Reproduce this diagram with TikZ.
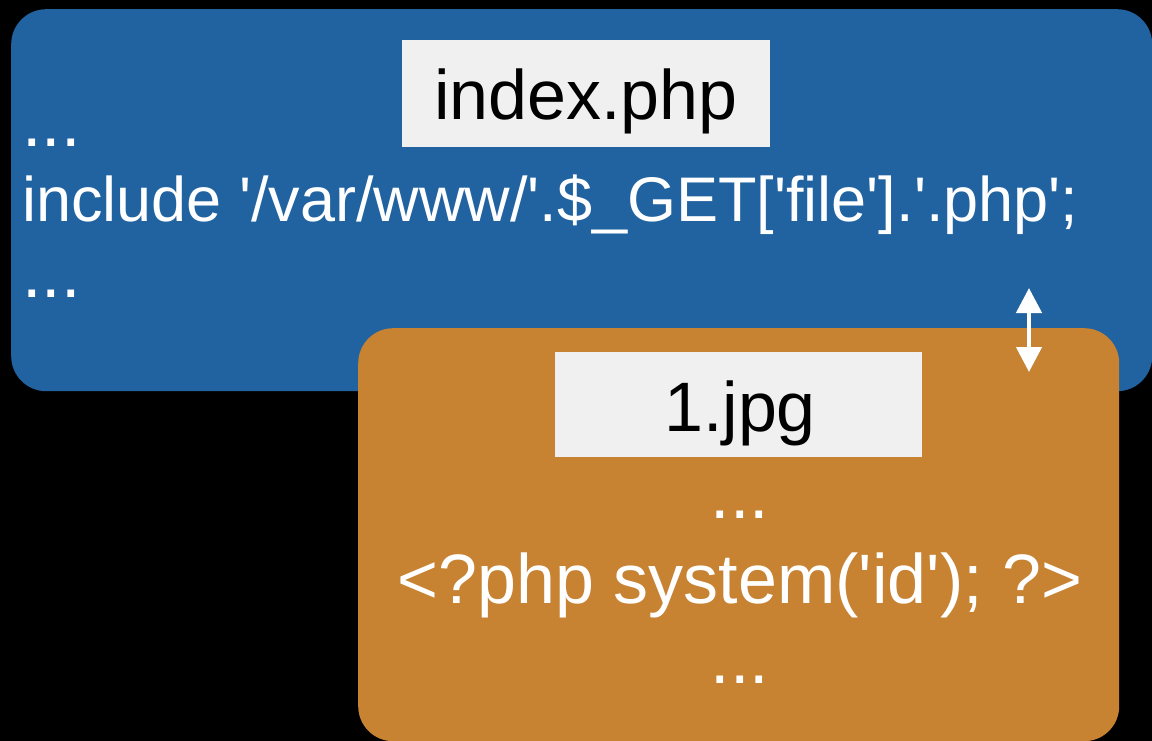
\documentclass[tikz,border=0pt]{standalone}
\usepackage{fontspec}
\newfontfamily\codefont{Liberation Sans}
\usetikzlibrary{arrows.meta}
\definecolor{bluebg}{RGB}{33,99,160}
\definecolor{orangebg}{RGB}{199,130,50}
\definecolor{labelbg}{RGB}{240,240,240}
\begin{document}
\begin{tikzpicture}[x=1pt,y=-1pt,
  panel/.style={rectangle, rounded corners=35pt, inner sep=0pt, draw=none, anchor=north west},
  labelbox/.style={rectangle, fill=labelbg, inner sep=0pt, draw=none},
  code/.style={text=white, inner sep=0pt, font=\codefont\fontsize{70}{84}\selectfont},
  labeltext/.style={text=black, inner sep=0pt, anchor=base, font=\codefont\fontsize{70}{84}\selectfont},
  twoway/.style={white, line width=4.5pt, {Triangle[width=25pt,length=25pt]}-{Triangle[width=25pt,length=25pt]}}]
\fill[black] (0,0) rectangle (1152,741);
\useasboundingbox (0,0) rectangle (1152,741);
% blue panel
\node[panel, fill=bluebg, minimum width=1141pt, minimum height=382pt] (phpbox) at (11,9) {};
\node[labelbox, minimum width=368pt, minimum height=107pt] (idxbox) at (586,93.5) {};
\node[labeltext] (idxtxt) at (586,120) {index.php};
\node[code, anchor=base west] (dotsA) at (22,147) {...};
\node[code, anchor=base west, font=\codefont\fontsize{63}{76}\selectfont] (incl) at (22,222) {include '/var/www/'.\$\_GET['file'].'.php';};
\node[code, anchor=base west] (dotsB) at (22,297) {...};
% orange panel
\node[panel, fill=orangebg, minimum width=761pt, minimum height=413pt] (jpgbox) at (358,328) {};
\node[labelbox, minimum width=367pt, minimum height=105pt] (jpglbl) at (738.5,404.5) {};
\node[labeltext] (jpgtxt) at (740,431) {1.jpg};
\node[code, anchor=base] (dotsC) at (740,518) {...};
\node[code, anchor=base] (payload) at (740,603) {<?php system('id'); ?>};
\node[code, anchor=base] (dotsD) at (740,683) {...};
% arrow
\coordinate (arrTop) at (1029,288);
\coordinate (arrBot) at (1029,372);
\draw[twoway] (arrTop) -- (arrBot);
\end{tikzpicture}
\end{document}
